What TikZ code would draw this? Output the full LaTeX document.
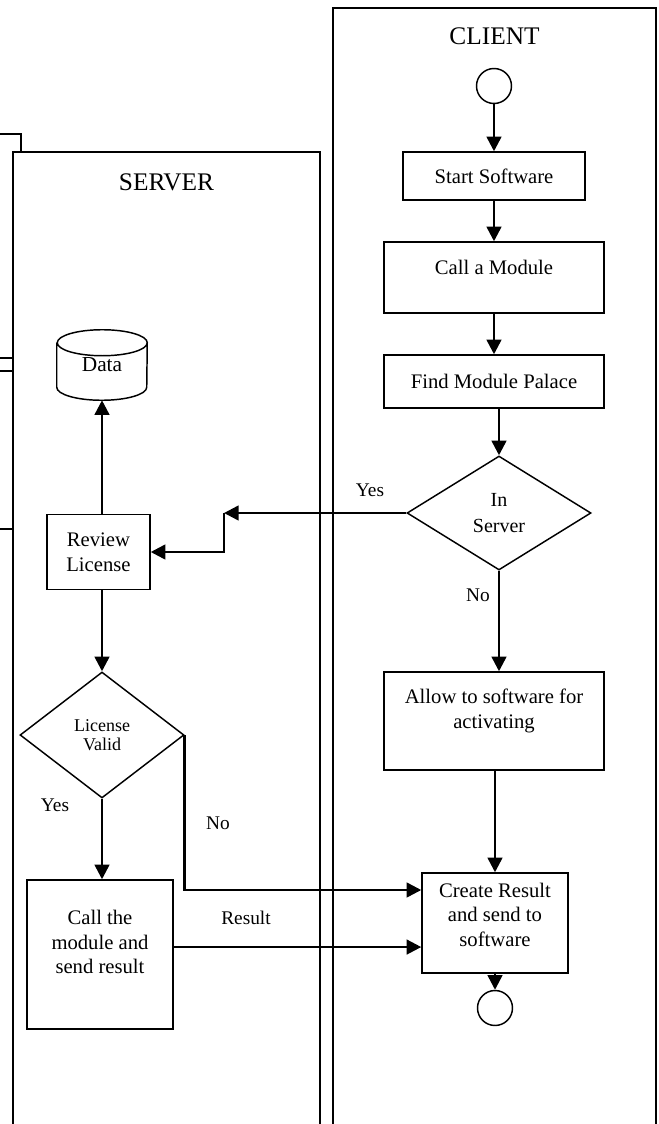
\documentclass[tikz,border=0pt]{standalone}
\usepackage{fontspec}
\setmainfont{Liberation Serif}
\usetikzlibrary{shapes.geometric, arrows.meta}

% text block raised inside a fixed box
\newcommand{\uptext}[2]{\raisebox{#1}[0pt][0pt]{\begin{tabular}{@{}c@{}}#2\end{tabular}}}

\begin{document}
\begin{tikzpicture}[x=0.75pt, y=-0.75pt,
    box/.style={draw, line width=1.1pt, inner sep=2pt, align=center, font=\fontsize{15.5}{18.5}\selectfont},
    dec/.style={draw, diamond, line width=1.1pt, inner sep=0pt, align=center},
    term/.style={draw, circle, line width=1.1pt, minimum size=26.25pt, inner sep=0pt},
    arr/.style={-{Triangle[length=11pt,width=11pt]}, line width=1.9pt},
    lbl/.style={font=\fontsize{14.5}{17}\selectfont},
    title/.style={font=\fontsize{19}{22}\selectfont},
    lane/.style={line width=1.1pt}]
    \useasboundingbox (0,0) rectangle (659,1124);
    % lanes
    \draw[lane] (0,134) -| (21,152);
    \draw[lane] (0,358) -- (13,358);
    \draw[lane] (0,371) -- (13,371);
    \draw[lane] (0,529) -- (13,529);
    \draw[lane] (13,1124) |- (320,152) -- (320,1124);
    \draw[lane] (333,1124) |- (656,8) -- (656,1124);
    \node[title] (srv) at (166.5,182) {SERVER};
    \node[title] (cli) at (494.5,36) {CLIENT};

    % client side
    \node[term] (start) at (494,86) {};
    \node[box, minimum width=136.5pt, minimum height=36pt] (ss) at (494,176) {Start Software};
    \node[box, minimum width=165pt, minimum height=53.25pt, text depth=16pt] (cm) at (494,277.5) {Call a Module};
    \node[box, minimum width=165pt, minimum height=39.75pt] (fm) at (494,381.5) {Find Module Palace};
    \node[dec, minimum width=138pt, minimum height=85.5pt, font=\fontsize{15}{19.5}\selectfont] (isv) at (499,513) {In\\Server};
    \node[box, minimum width=165pt, minimum height=73.5pt] (al) at (494,721) {\uptext{3.7pt}{Allow to software for\\activating}};
    \node[box, minimum width=109.5pt, minimum height=75pt] (cr) at (495,923) {\uptext{1pt}{Create Result\\and send to\\software}};
    \node[term] (stop) at (495,1008) {};

    % server side
    \node[minimum width=67.5pt, minimum height=52.5pt, font=\fontsize{16}{19}\selectfont] (data) at (102,365) {Data};
    \draw[line width=1.1pt] ([yshift=-9.75pt]data.north west) -- ([yshift=9.75pt]data.south west)
        arc[start angle=180, end angle=360, x radius=33.75pt, y radius=9.75pt]
        -- ([yshift=-9.75pt]data.north east)
        arc[start angle=0, end angle=360, x radius=33.75pt, y radius=9.75pt];
    \node[box, minimum width=77.25pt, minimum height=56.25pt] (rl) at (98.5,552) {Review\\License};
    \node[dec, minimum width=123pt, minimum height=94.5pt, font=\fontsize{13.5}{14.5}\selectfont] (lv) at (102,735) {License\\Valid};
    \node[box, minimum width=109.5pt, minimum height=111.75pt] (cmod) at (100,954.5) {\uptext{4.1pt}{Call the\\module and\\send result}};

    % labels
    \node[lbl] (yes1) at (370,490) {Yes};
    \node[lbl] (no1) at (478,595) {No};
    \node[lbl] (yes2) at (55,805) {Yes};
    \node[lbl] (no2) at (218,823) {No};
    \node[lbl] (res) at (246,918) {Result};

    % flow
    \draw[arr] (start) -- (start |- ss.north);
    \draw[arr] (ss) -- (cm);
    \draw[arr] (cm) -- (fm);
    \draw[arr] (fm.south -| isv.north) -- (isv.north);
    \draw[arr] (isv.south) -- (isv.south |- al.north);
    \draw[arr] (al.south -| cr.north) -- (cr.north);
    \draw[arr] (cr) -- (stop);
    \coordinate (yj) at (224,513);
    \draw[arr] (isv.west) -- (yj);
    \draw[arr] (yj) |- (rl.east);
    \draw[arr] (data.south |- rl.north) -- (data.south);
    \draw[arr] (lv.north |- rl.south) -- (lv.north);
    \draw[arr] (lv.south) -- (lv.south |- cmod.north);
    \draw[arr] (lv.east) |- ([yshift=24.75pt]cr.west);
    \draw[arr] ([yshift=5.6pt]cmod.east) -- ([yshift=5.6pt]cmod.east -| cr.west);
\end{tikzpicture}
\end{document}
